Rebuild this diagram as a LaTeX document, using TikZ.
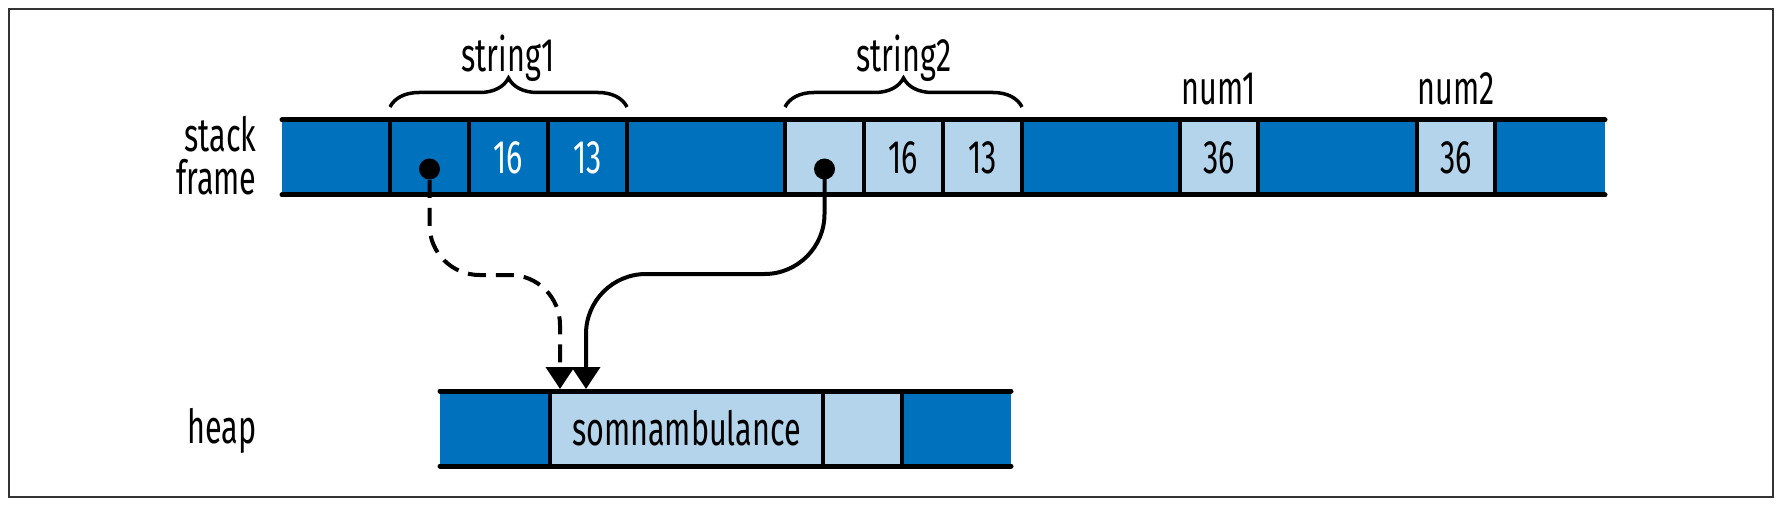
\documentclass[tikz,border=0pt]{standalone}
\usepackage{fontspec}
\setmainfont{Fira Sans}[FakeStretch=0.65]
\usetikzlibrary{arrows.meta,decorations.pathreplacing,calc}
\definecolor{darkc}{HTML}{0071BC}
\definecolor{lightc}{HTML}{B3D4EA}
\begin{document}
\begin{tikzpicture}[x=0.5pt,y=-0.5pt,
  cell/.style={inner sep=0pt, outer sep=0pt, minimum height=37.5pt, font=\fontsize{23.5}{24}\selectfont},
  dk/.style={cell, fill=darkc, text=white},
  lt/.style={cell, fill=lightc, text=black},
  barline/.style={line width=2.5pt, line cap=round},
  divline/.style={line width=2pt},
  lbl/.style={font=\fontsize{23.5}{21.5}\selectfont, inner sep=0pt},
  ptdot/.style={circle, fill=black, minimum size=10.5pt, inner sep=0pt},
  ptr/.style={line width=2pt, -{Triangle[length=11pt,width=14pt]}},
  brc/.style={decorate, decoration={brace, amplitude=14.5pt}, line width=1.75pt}
]
\useasboundingbox (0,0) rectangle (1784,508);
\draw[line width=1pt, black!80] (9,9) rectangle (1773,497);

% stack frame cells
\node[dk, minimum width=54pt]   (s0)  at (336,157.5) {};
\node[dk, minimum width=39.5pt] (s1)  at (429.5,157.5) {};
\node[dk, minimum width=39.5pt] (s2)  at (508.5,157.5) {16};
\node[dk, minimum width=39.5pt] (s3)  at (587.5,157.5) {13};
\node[dk, minimum width=79pt]   (s4)  at (706,157.5) {};
\node[lt, minimum width=39.5pt] (s5)  at (824.5,157.5) {};
\node[lt, minimum width=39.5pt] (s6)  at (903.5,157.5) {16};
\node[lt, minimum width=39.5pt] (s7)  at (982.5,157.5) {13};
\node[dk, minimum width=79pt]   (s8)  at (1101,157.5) {};
\node[lt, minimum width=39pt]   (s9)  at (1219,157.5) {36};
\node[dk, minimum width=79.5pt] (s10) at (1337.5,157.5) {};
\node[lt, minimum width=39pt]   (s11) at (1456,157.5) {36};
\node[dk, minimum width=55pt]   (s12) at (1550,157.5) {};

% heap cells
\node[dk, minimum width=55pt]    (h0) at (495,428.5) {};
\node[lt, minimum width=136.5pt] (h1) at (686.5,428.5) {somnambulance};
\node[lt, minimum width=39.5pt]  (h2) at (862.5,428.5) {};
\node[dk, minimum width=54.5pt]  (h3) at (956.5,428.5) {};

% dividers and bar lines
\foreach \n in {s1,s2,s3,s4,s5,s6,s7,s8,s9,s10,s11,s12,h1,h2,h3}
  \draw[divline] (\n.north west) -- (\n.south west);
\draw[barline] (s0.north west) -- (s12.north east);
\draw[barline] (s0.south west) -- (s12.south east);
\draw[barline] (h0.north west) -- (h3.north east);
\draw[barline] (h0.south west) -- (h3.south east);

% labels
\node[lbl, align=right, anchor=east] (lstack) at (257,156) {stack\\frame};
\node[lbl, anchor=base east] (lheap) at (257,443) {heap};
\node[lbl, anchor=base] (l1) at (508,72) {string1};
\node[lbl, anchor=base] (l2) at (904,72) {string2};
\node[lbl, anchor=base] (l3) at (1219,105) {num1};
\node[lbl, anchor=base] (l4) at (1456,105) {num2};

% braces
\draw[brc] ([yshift=6.5pt]s1.north west) -- ([yshift=6.5pt]s3.north east);
\draw[brc] ([yshift=6.5pt]s5.north west) -- ([yshift=6.5pt]s7.north east);

% pointers
\node[ptdot] (p1) at (429.5,169) {};
\node[ptdot] (p2) at (824.5,169) {};
\coordinate (t1) at (560,389);
\coordinate (t2) at (586,389);
\draw[ptr, dash pattern=on 9pt off 5pt, rounded corners=25pt]
  (p1.south) -- (429.5,275) -- (560,275) -- (t1);
\draw[ptr, rounded corners=30pt]
  (p2.center) -- (824.5,274) -- (586,274) -- (t2);
\end{tikzpicture}
\end{document}
